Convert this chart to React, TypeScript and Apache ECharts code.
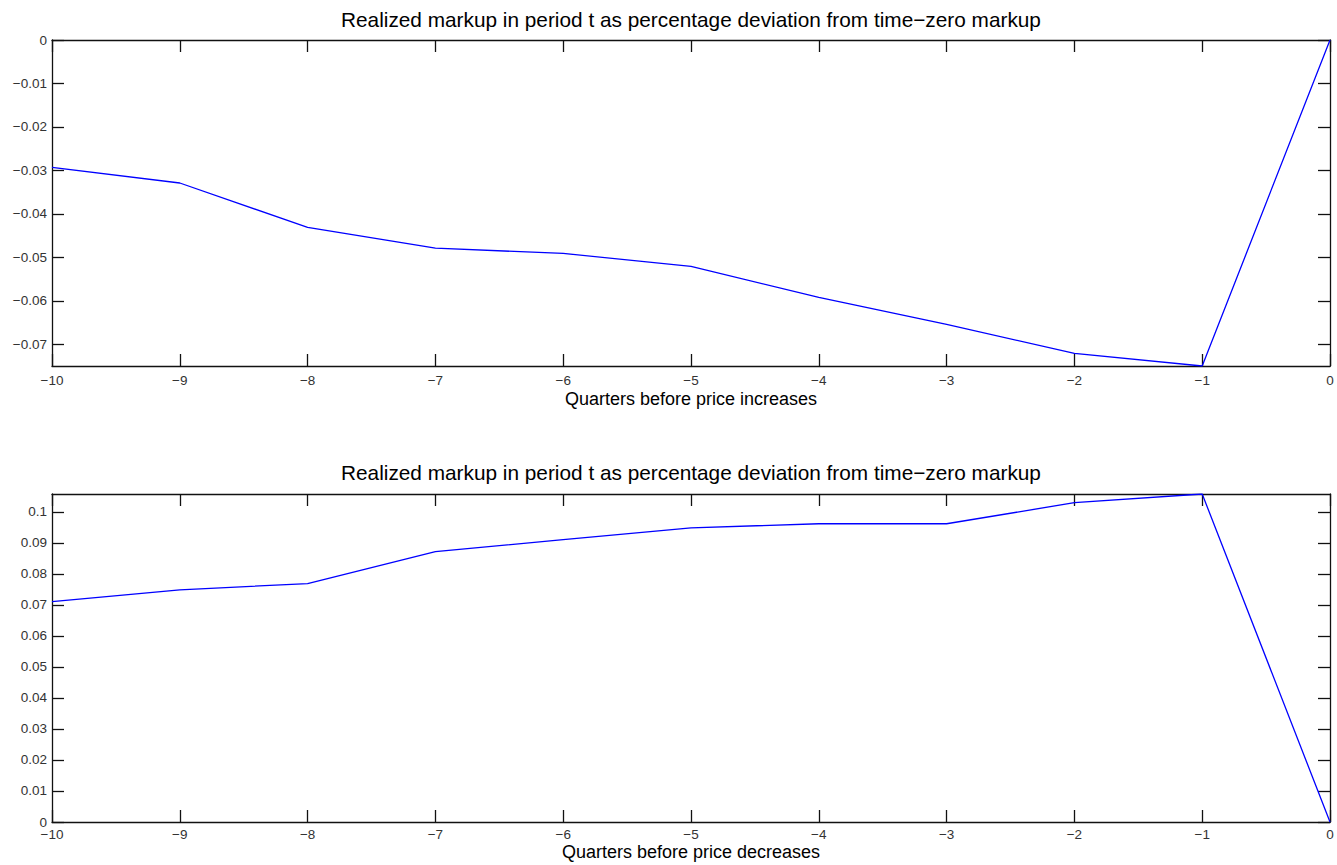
import React, { useEffect, useRef } from "react";
import * as echarts from "echarts";

const quarters = [-10, -9, -8, -7, -6, -5, -4, -3, -2, -1, 0];
const increaseMarkup = [-0.0293, -0.0329, -0.0431, -0.0479, -0.0491, -0.0521, -0.0592, -0.0654, -0.0721, -0.075, 0];
const decreaseMarkup = [0.0711, 0.0749, 0.0769, 0.0872, 0.0911, 0.0949, 0.0962, 0.0962, 0.103, 0.1058, 0];
const topYTicks = [-0.07, -0.06, -0.05, -0.04, -0.03, -0.02, -0.01, 0];
const bottomYTicks = [0, 0.01, 0.02, 0.03, 0.04, 0.05, 0.06, 0.07, 0.08, 0.09, 0.1];
const titleText = "Realized markup in period t as percentage deviation from time\u2212zero markup";
const xNameTop = "Quarters before price increases";
const xNameBottom = "Quarters before price decreases";

const FONT = "Liberation Sans, Arial, Helvetica, sans-serif";

const fmt = (v: number) => {
  const s = String(Math.round(v * 1000) / 1000);
  return s.replace("-", "\u2212");
};

export default function App() {
  const ref = useRef<HTMLDivElement>(null);
  useEffect(() => {
    if (!ref.current) return;
    const chart = echarts.init(ref.current, null, { renderer: "svg" });
    const axisLine = { show: true, onZero: false, lineStyle: { color: "#111", width: 1.3 } };
    const tickStyle = { show: true, inside: true, length: 12, lineStyle: { color: "#111", width: 1.3 } };
    const labelStyle = { color: "#333", fontFamily: FONT, fontSize: 13.5, lineHeight: 11 };

    const xAxes: any[] = [];
    const yAxes: any[] = [];
    [0, 1].forEach((g) => {
      xAxes.push({
        type: "value", gridIndex: g, min: -10, max: 0, interval: 1, position: "bottom",
        axisLine, axisTick: tickStyle, splitLine: { show: false },
        axisLabel: { ...labelStyle, margin: g === 0 ? 9 : 7, formatter: fmt },
        name: g === 0 ? xNameTop : xNameBottom, nameLocation: "middle", nameGap: g === 0 ? 24 : 21,
        nameTextStyle: { color: "#000", fontFamily: FONT, fontSize: 18, verticalAlign: "top" },
      });
      xAxes.push({
        type: "value", gridIndex: g, min: -10, max: 0, interval: 1, position: "top",
        axisLine, axisTick: tickStyle, splitLine: { show: false }, axisLabel: { show: false },
      });
      const ticks = g === 0 ? topYTicks : bottomYTicks;
      yAxes.push({
        type: "value", gridIndex: g, position: "left",
        min: g === 0 ? -0.075 : 0, max: g === 0 ? 0 : 0.1058,
        axisLine, splitLine: { show: false },
        axisTick: { ...tickStyle, customValues: ticks },
        axisLabel: { ...labelStyle, margin: 5, formatter: fmt, customValues: ticks },
      });
      yAxes.push({
        type: "value", gridIndex: g, position: "right",
        min: g === 0 ? -0.075 : 0, max: g === 0 ? 0 : 0.1058,
        axisLine, splitLine: { show: false },
        axisTick: { ...tickStyle, customValues: ticks },
        axisLabel: { show: false },
      });
    });

    const titleStyle = { fontFamily: FONT, fontSize: 20.8, fontWeight: "normal", color: "#000" };
    chart.setOption({
      animation: false,
      backgroundColor: "#fff",
      title: [
        { text: titleText, left: 341, top: 9, padding: 0, textStyle: titleStyle },
        { text: titleText, left: 341, top: 462, padding: 0, textStyle: titleStyle },
      ],
      grid: [
        { left: 52, right: 7, top: 40, height: 326 },
        { left: 52, right: 7, top: 494, height: 328 },
      ],
      xAxis: xAxes,
      yAxis: yAxes,
      series: [
        {
          type: "line", xAxisIndex: 0, yAxisIndex: 0, symbol: "none",
          lineStyle: { color: "#0000ff", width: 1.3 },
          data: quarters.map((q, i) => [q, increaseMarkup[i]]),
        },
        {
          type: "line", xAxisIndex: 2, yAxisIndex: 2, symbol: "none",
          lineStyle: { color: "#0000ff", width: 1.3 },
          data: quarters.map((q, i) => [q, decreaseMarkup[i]]),
        },
      ],
    });
    return () => chart.dispose();
  }, []);
  return <div ref={ref} style={{ width: 1337, height: 865, position: "absolute", left: 0, top: 0 }} />;
}
